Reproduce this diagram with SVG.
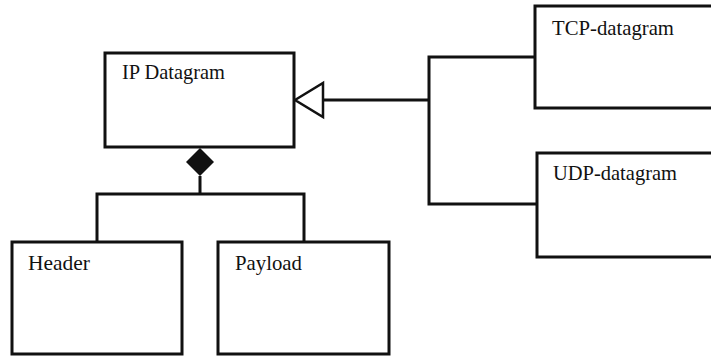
<svg xmlns="http://www.w3.org/2000/svg" width="711" height="356" viewBox="0 0 711 356">
<style>
.box{fill:#fff;stroke:#111;stroke-width:3}
.lbl{font-family:"Liberation Serif","Times New Roman",serif;font-size:21px;fill:#111}
.con{fill:none;stroke:#111;stroke-width:3}
</style>
<rect width="711" height="356" fill="#fff"/>
<g id="connectors">
<polyline class="con" points="323,100 429,100"/>
<polyline class="con" points="535,57 429,57 429,204 537,204"/>
<polygon points="295,100 323,83 323,117" fill="#fff" stroke="#111" stroke-width="2.5"/>
<polyline class="con" points="200,176 200,194"/>
<polyline class="con" points="97,242 97,194 304,194 304,242"/>
<polygon points="200,148 214,162 200,176 186,162" fill="#111"/>
</g>
<g id="ip-datagram">
<rect class="box" x="105" y="53" width="189" height="94"/>
<text class="lbl" x="122" y="79" textLength="103" lengthAdjust="spacingAndGlyphs">IP Datagram</text>
</g>
<g id="tcp-datagram">
<rect class="box" x="535" y="6" width="200" height="102"/>
<text class="lbl" x="552" y="35" textLength="122" lengthAdjust="spacingAndGlyphs">TCP-datagram</text>
</g>
<g id="udp-datagram">
<rect class="box" x="537" y="153" width="200" height="104"/>
<text class="lbl" x="553" y="180" textLength="124" lengthAdjust="spacingAndGlyphs">UDP-datagram</text>
</g>
<g id="header">
<rect class="box" x="12" y="242" width="170" height="112"/>
<text class="lbl" x="28" y="270" textLength="62" lengthAdjust="spacingAndGlyphs">Header</text>
</g>
<g id="payload">
<rect class="box" x="218" y="242" width="171" height="112"/>
<text class="lbl" x="235" y="270" textLength="67" lengthAdjust="spacingAndGlyphs">Payload</text>
</g>
</svg>
